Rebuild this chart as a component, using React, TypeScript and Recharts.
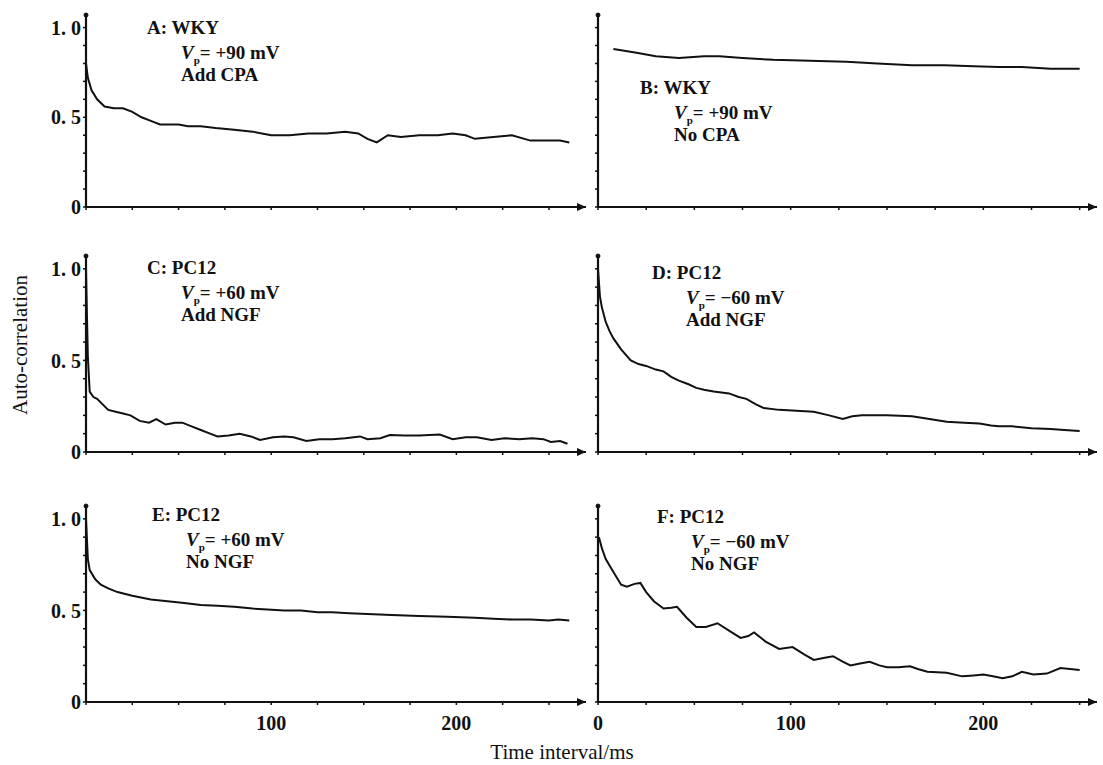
import React from "react";
import { LineChart, Line, XAxis, YAxis, ReferenceDot } from "recharts";

// time (ms) / auto-correlation
const aTime = [0, 1, 3, 6, 10, 15, 20, 25, 30, 35, 40, 45, 50, 55, 62, 70, 80, 90, 100, 110, 120, 130, 140, 147, 152, 157, 163, 170, 180, 190, 198, 205, 210, 220, 230, 240, 250, 256, 261];
const aCorr = [0.8, 0.72, 0.65, 0.6, 0.56, 0.55, 0.55, 0.53, 0.5, 0.48, 0.46, 0.46, 0.46, 0.45, 0.45, 0.44, 0.43, 0.42, 0.4, 0.4, 0.41, 0.41, 0.42, 0.41, 0.38, 0.36, 0.4, 0.39, 0.4, 0.4, 0.41, 0.4, 0.38, 0.39, 0.4, 0.37, 0.37, 0.37, 0.36];

const bTime = [8, 20, 30, 42, 55, 63, 75, 91, 110, 129, 145, 163, 180, 195, 208, 220, 235, 250];
const bCorr = [0.88, 0.86, 0.84, 0.83, 0.84, 0.84, 0.83, 0.82, 0.815, 0.81, 0.8, 0.79, 0.79, 0.785, 0.78, 0.78, 0.77, 0.77];

const cTime = [0, 0.5, 1, 2, 4, 6, 9, 12, 16, 20, 24, 29, 34, 38, 43, 48, 52, 57, 62, 67, 71, 77, 83, 89, 94, 101, 107, 112, 119, 126, 133, 140, 148, 152, 159, 164, 172, 180, 191, 198, 205, 211, 219, 226, 234, 241, 247, 251, 256, 260];
const cCorr = [1.0, 0.75, 0.52, 0.33, 0.3, 0.29, 0.26, 0.23, 0.22, 0.21, 0.2, 0.17, 0.16, 0.18, 0.15, 0.16, 0.16, 0.14, 0.12, 0.1, 0.085, 0.09, 0.1, 0.085, 0.066, 0.08, 0.085, 0.08, 0.06, 0.07, 0.07, 0.075, 0.085, 0.07, 0.075, 0.093, 0.09, 0.09, 0.095, 0.07, 0.08, 0.08, 0.065, 0.075, 0.07, 0.075, 0.07, 0.055, 0.06, 0.045];

const dTime = [0, 1, 2, 4, 6, 8, 12, 17, 21, 25, 30, 34, 38, 42, 47, 51, 55, 60, 68, 73, 77, 82, 86, 94, 103, 112, 120, 127, 132, 137, 150, 163, 172, 181, 190, 198, 204, 208, 215, 225, 235, 242, 250];
const dCorr = [1.0, 0.85, 0.79, 0.71, 0.66, 0.62, 0.56, 0.5, 0.48, 0.47, 0.45, 0.44, 0.41, 0.39, 0.37, 0.35, 0.34, 0.33, 0.32, 0.3, 0.29, 0.26, 0.24, 0.23, 0.225, 0.22, 0.2, 0.18, 0.195, 0.2, 0.2, 0.195, 0.18, 0.165, 0.16, 0.155, 0.145, 0.14, 0.14, 0.13, 0.125, 0.12, 0.115];

const eTime = [0, 1, 2, 5, 8, 12, 17, 25, 35, 44, 53, 62, 71, 80, 90, 98, 107, 116, 125, 133, 142, 152, 165, 180, 195, 210, 220, 230, 240, 250, 255, 261];
const eCorr = [1.0, 0.78, 0.72, 0.67, 0.64, 0.62, 0.6, 0.58, 0.56, 0.55, 0.54, 0.53, 0.525, 0.52, 0.51, 0.505, 0.5, 0.5, 0.49, 0.49, 0.485, 0.48, 0.475, 0.47, 0.465, 0.46, 0.455, 0.45, 0.45, 0.445, 0.45, 0.445];

const fTime = [0.5, 2, 4, 8, 12, 15, 19, 22, 25, 29, 34, 38, 41, 46, 51, 56, 62, 68, 74, 78, 81, 87, 94, 101, 107, 112, 117, 122, 127, 131, 136, 141, 146, 150, 156, 162, 166, 171, 181, 189, 195, 200, 205, 210, 215, 220, 226, 233, 240, 245, 250];
const fCorr = [0.9, 0.84, 0.78, 0.71, 0.64, 0.63, 0.645, 0.65, 0.6, 0.55, 0.51, 0.515, 0.52, 0.46, 0.41, 0.41, 0.43, 0.39, 0.35, 0.36, 0.38, 0.33, 0.29, 0.3, 0.26, 0.23, 0.24, 0.25, 0.22, 0.2, 0.21, 0.22, 0.2, 0.19, 0.19, 0.195, 0.18, 0.165, 0.16, 0.14, 0.145, 0.15, 0.14, 0.13, 0.14, 0.165, 0.15, 0.155, 0.185, 0.18, 0.175];

const xTicks = [0, 25, 50, 75, 100, 125, 150, 175, 200, 225, 250];
const xLabelled = [100, 200];
const yTicks = [0, 0.1, 0.2, 0.3, 0.4, 0.5, 0.6, 0.7, 0.8, 0.9, 1.0];
const yLabels: Record<string, string> = { "0": "0", "0.5": "0. 5", "1": "1. 0" };

const panelIds = ["A", "B", "C", "D", "E", "F"];
const cells = ["WKY", "WKY", "PC12", "PC12", "PC12", "PC12"];
const voltages = ["+90 mV", "+90 mV", "+60 mV", "\u221260 mV", "+60 mV", "\u221260 mV"];
const treatments = ["Add CPA", "No CPA", "Add NGF", "Add NGF", "No NGF", "No NGF"];
const series = [
  [aTime, aCorr],
  [bTime, bCorr],
  [cTime, cCorr],
  [dTime, dCorr],
  [eTime, eCorr],
  [fTime, fCorr],
];

const FONT = "'Liberation Serif', 'DejaVu Serif', serif";
const INK = "#111";

const rows = [
  { top: 15, bottom: 207 },
  { top: 256, bottom: 452 },
  { top: 506, bottom: 702 },
];
const cols = [
  { left: 86, width: 500, max: 270, yw: 60 },
  { left: 598, width: 499, max: 259, yw: 12 },
];
// where each panel's caption starts (first line)
const captionAt = [
  [147, 28],
  [640, 88],
  [147, 268],
  [652, 273],
  [152, 515],
  [657, 517],
];

function Arrow(props: any) {
  const { cx, cy } = props;
  return <path d={`M${cx - 9},${cy - 4} L${cx},${cy} L${cx - 9},${cy + 4} Z`} fill={INK} />;
}

function Panel({ idx }: { idx: number }) {
  const row = rows[Math.floor(idx / 2)];
  const col = cols[idx % 2];
  const isLeft = idx % 2 === 0;
  const isBottom = idx >= 4;
  const [times, corr] = series[idx];
  const data = times.map((t, i) => ({ t, v: corr[i] }));
  const mt = 6;
  const xh = isBottom ? 40 : 12;
  const plotH = row.bottom - row.top;
  const w = col.yw + col.width + 8;
  const h = mt + plotH + xh;

  const xFmt = (v: number) => {
    if (!isBottom) return "";
    if (xLabelled.includes(v)) return String(v);
    if (v === 0 && !isLeft) return "0";
    return "";
  };
  const yFmt = (v: number) => (isLeft ? yLabels[String(Math.round(v * 10) / 10)] ?? "" : "");

  const [cx, cy] = captionAt[idx];
  const line = (top: number, left: number, children: React.ReactNode) => (
    <div
      style={{
        position: "absolute",
        left,
        top: top - 12,
        fontFamily: FONT,
        fontSize: 19,
        fontWeight: 700,
        lineHeight: "24px",
        color: INK,
        whiteSpace: "nowrap",
      }}
    >
      {children}
    </div>
  );

  return (
    <>
      <div style={{ position: "absolute", left: col.left - col.yw, top: row.top - mt }}>
        <LineChart width={w} height={h} data={data} margin={{ top: mt, right: 8, bottom: 0, left: 0 }}>
          <XAxis
            dataKey="t"
            type="number"
            domain={[0, col.max]}
            ticks={xTicks}
            tickFormatter={xFmt}
            height={xh}
            axisLine={{ stroke: INK, strokeWidth: 2.2 }}
            tickLine={{ stroke: INK, strokeWidth: 1.5 }}
            tickSize={3}
            tickMargin={11}
            tick={{ fontFamily: FONT, fontSize: 20, fontWeight: 700, fill: INK }}
            allowDataOverflow
          />
          <YAxis
            type="number"
            domain={[0, 1.07]}
            ticks={yTicks}
            tickFormatter={yFmt}
            width={col.yw}
            axisLine={{ stroke: INK, strokeWidth: 2.2 }}
            tickLine={{ stroke: INK, strokeWidth: 1.5 }}
            tickSize={3}
            tickMargin={2}
            interval={0}
            tick={{ fontFamily: FONT, fontSize: 20, fontWeight: 700, fill: INK }}
            allowDataOverflow
          />
          <Line
            type="linear"
            dataKey="v"
            stroke={INK}
            strokeWidth={2}
            dot={false}
            isAnimationActive={false}
          />
          <ReferenceDot x={col.max} y={0} r={4} shape={<Arrow />} ifOverflow="visible" />
          <ReferenceDot x={0} y={1.07} r={2} fill={INK} stroke={INK} ifOverflow="visible" />
        </LineChart>
      </div>
      {line(cy, cx, `${panelIds[idx]}: ${cells[idx]}`)}
      {line(
        cy + 25,
        cx + 34,
        <>
          <i>V</i>
          <sub style={{ fontSize: 11 }}>p</sub>= {voltages[idx]}
        </>
      )}
      {line(cy + 47, cx + 34, treatments[idx])}
    </>
  );
}

export default function App() {
  return (
    <div
      style={{
        position: "absolute",
        left: 0,
        top: 0,
        width: 1103,
        height: 765,
        background: "#fff",
        overflow: "hidden",
      }}
    >
      {panelIds.map((_, i) => (
        <Panel key={i} idx={i} />
      ))}
      <div
        style={{
          position: "absolute",
          left: 20,
          top: 345,
          transform: "translate(-50%, -50%) rotate(-90deg)",
          fontFamily: FONT,
          fontSize: 21,
          color: INK,
          whiteSpace: "nowrap",
        }}
      >
        Auto-correlation
      </div>
      <div
        style={{
          position: "absolute",
          left: 562,
          top: 752,
          transform: "translate(-50%, -50%)",
          fontFamily: FONT,
          fontSize: 21,
          color: INK,
          whiteSpace: "nowrap",
        }}
      >
        Time interval/ms
      </div>
    </div>
  );
}
